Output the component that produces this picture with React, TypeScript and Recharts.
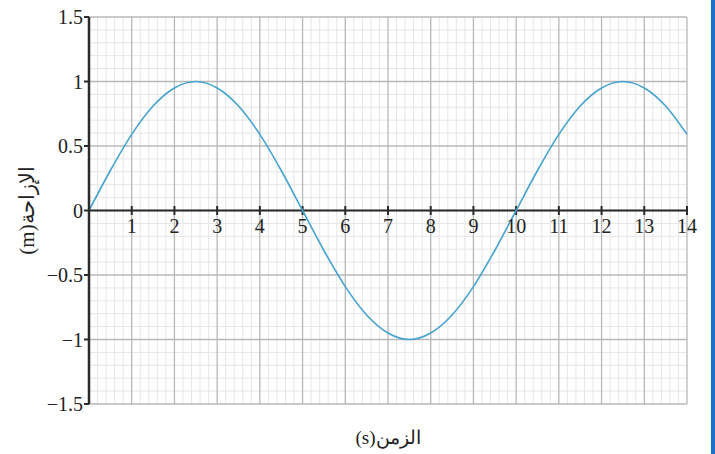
import React from "react";
import {
  LineChart,
  Line,
  XAxis,
  YAxis,
  ReferenceLine,
  ReferenceDot,
} from "recharts";

// displacement of the oscillator, sampled every half second
const timeValues = [
  0, 0.5, 1, 1.5, 2, 2.5, 3, 3.5, 4, 4.5, 5, 5.5, 6, 6.5, 7, 7.5, 8, 8.5, 9,
  9.5, 10, 10.5, 11, 11.5, 12, 12.5, 13, 13.5, 14,
];
const displacementValues = [
  0, 0.31, 0.59, 0.81, 0.95, 1, 0.95, 0.81, 0.59, 0.31, 0, -0.31, -0.59, -0.81,
  -0.95, -1, -0.95, -0.81, -0.59, -0.31, 0, 0.31, 0.59, 0.81, 0.95, 1, 0.95,
  0.81, 0.59,
];

const xTickLabels = [1, 2, 3, 4, 5, 6, 7, 8, 9, 10, 11, 12, 13, 14];
const yTickLabels = [-1.5, -1, -0.5, 0, 0.5, 1, 1.5];

const xMajor = [0, 1, 2, 3, 4, 5, 6, 7, 8, 9, 10, 11, 12, 13, 14];

// fine graph-paper lines: fifths of a second, tenths of a metre
const xMinor: number[] = [];
for (let i = 0; i <= 70; i++) if (i % 5 !== 0) xMinor.push(i / 5);
const yMinor: number[] = [];
for (let i = -15; i <= 15; i++) if (i % 5 !== 0) yMinor.push(i / 10);

const data = timeValues.map((t, i) => ({ t, d: displacementValues[i] }));

const AXIS = "#2b2b2b";
const MAJOR = "#b8b8b8";
const MINOR = "#e6e6e6";
const CURVE = "#45a3cf";
const serif = "'Liberation Serif', 'DejaVu Serif', serif";

const fmt = (v: number) => (v < 0 ? "\u2212" + Math.abs(v) : String(v));

const YTitle = (props: any) => {
  const vb = props.viewBox || { y: 0, height: 0 };
  const cy = vb.y + vb.height / 2;
  return (
    <text
      x={27}
      y={cy}
      transform={`rotate(-90 27 ${cy})`}
      textAnchor="middle"
      dominantBaseline="central"
      fontSize={21}
      fill="#222"
      fontFamily={serif}
    >
      (m)الإزاحة
    </text>
  );
};

export default function App() {
  return (
    <div
      style={{
        position: "absolute",
        left: 0,
        top: 0,
        width: 715,
        height: 454,
        background: "#fff",
      }}
    >
      <LineChart
        width={711}
        height={454}
        data={data}
        margin={{ top: 17, right: 24, left: 0, bottom: 0 }}
      >
        <XAxis
          dataKey="t"
          type="number"
          domain={[0, 14]}
          ticks={xMajor}
          tick={false}
          tickLine={false}
          axisLine={false}
          height={50}
          label={{
            value: "(s)الزمن",
            position: "insideBottom",
            offset: 10,
            fontSize: 19,
            fill: "#222",
            fontFamily: serif,
          }}
        />
        <YAxis
          type="number"
          domain={[-1.5, 1.5]}
          ticks={yTickLabels}
          width={89}
          tickFormatter={fmt}
          tick={{ fontSize: 20, fill: "#222", fontFamily: serif }}
          tickSize={5}
          tickMargin={1}
          tickLine={{ stroke: AXIS, strokeWidth: 2 }}
          axisLine={{ stroke: AXIS, strokeWidth: 2.5 }}
          label={<YTitle />}
        />

        {xMinor.map((x) => (
          <ReferenceLine key={`vx${x}`} x={x} stroke={MINOR} strokeWidth={1} />
        ))}
        {yMinor.map((y) => (
          <ReferenceLine key={`hy${y}`} y={y} stroke={MINOR} strokeWidth={1} />
        ))}
        {xMajor.map((x) => (
          <ReferenceLine key={`VX${x}`} x={x} stroke={MAJOR} strokeWidth={1.3} />
        ))}
        {yTickLabels.map((y) => (
          <ReferenceLine key={`HY${y}`} y={y} stroke={MAJOR} strokeWidth={1.3} />
        ))}

        <ReferenceLine y={0} stroke={AXIS} strokeWidth={2} />
        {xTickLabels.map((x) => (
          <ReferenceLine
            key={`tk${x}`}
            segment={[
              { x, y: -0.035 },
              { x, y: 0.035 },
            ]}
            stroke={AXIS}
            strokeWidth={2}
          />
        ))}
        {xTickLabels.map((x) => (
          <ReferenceDot
            key={`lb${x}`}
            x={x}
            y={0}
            r={0}
            stroke="none"
            fill="none"
            label={{
              value: x,
              position: "bottom",
              offset: 8,
              fontSize: 20,
              fill: "#222",
              fontFamily: serif,
            }}
          />
        ))}

        <Line
          type="monotone"
          dataKey="d"
          stroke={CURVE}
          strokeWidth={1.6}
          dot={false}
          isAnimationActive={false}
        />
      </LineChart>
      <div
        style={{
          position: "absolute",
          right: 0,
          top: 0,
          width: 4,
          height: 454,
          background: "#1a72c9",
        }}
      />
    </div>
  );
}
